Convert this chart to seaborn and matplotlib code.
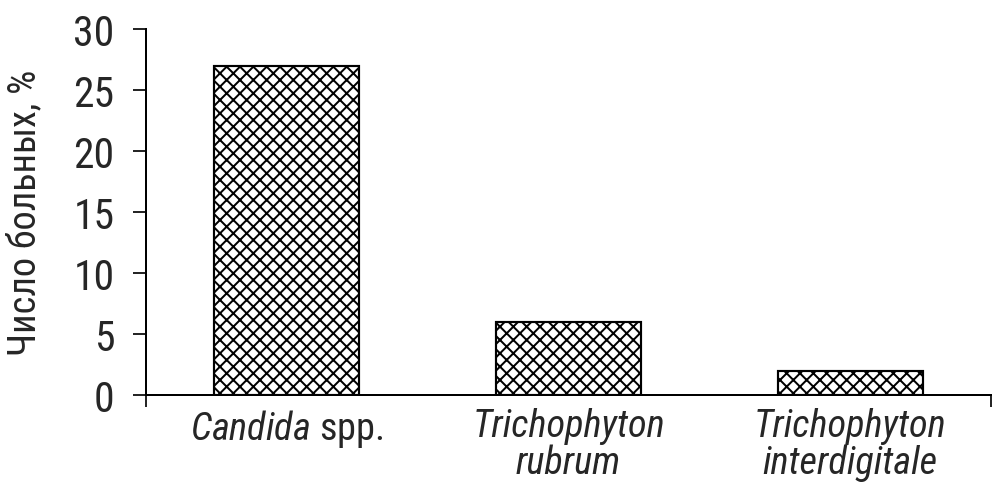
import matplotlib
matplotlib.use("Agg")
import matplotlib.pyplot as plt
from matplotlib import font_manager
import seaborn as sns
import pandas as pd

categories = ["Candida spp.", "Trichophyton rubrum", "Trichophyton interdigitale"]
tick_labels = [r"$\mathit{Candida}$ spp.", "Trichophyton\nrubrum", "Trichophyton\ninterdigitale"]
tick_italic = [False, True, True]
values = [27, 6, 2]
y_ticks = [0, 5, 10, 15, 20, 25, 30]
y_label = "Число больных, %"

names = {f.name for f in font_manager.fontManager.ttflist}
font = "DejaVu Sans"
for cand in ["Roboto Condensed", "Liberation Sans Narrow", "Open Sans Condensed", "Noto Sans Condensed", "Roboto"]:
    if cand in names:
        font = cand
        break

sns.set_style("white")
plt.rcParams["font.family"] = [font, "DejaVu Sans"]
plt.rcParams["mathtext.fontset"] = "custom"
plt.rcParams["mathtext.it"] = f"{font}:italic"
plt.rcParams["mathtext.rm"] = font
plt.rcParams["hatch.linewidth"] = 1.2

dpi = 120
fig = plt.figure(figsize=(993 / dpi, 494 / dpi), dpi=dpi)
ax = fig.add_axes([146 / 993, 98 / 494, 845 / 993, 366 / 494])

df = pd.DataFrame({"cat": categories, "val": values})
sns.barplot(data=df, x="cat", y="val", color="white", edgecolor="black",
            hatch="xxx", linewidth=1.3, width=0.515, saturation=1, ax=ax)

ax.set_xlim(-0.5, len(values) - 0.5)
ax.set_ylim(0, 30)
ax.set_yticks(y_ticks)
ax.set_yticklabels([str(t) for t in y_ticks], fontsize=25)
ax.tick_params(axis="y", direction="out", length=7.8, width=1.2, pad=11, left=True)

ax.set_xticks([-0.5, len(values) - 0.5])
ax.set_xticklabels(["", ""])
ax.tick_params(axis="x", which="major", direction="out", length=7.2, width=1.2, bottom=True)
ax.set_xticks(range(len(values)), minor=True)
ax.set_xticklabels(tick_labels, minor=True, fontsize=23, linespacing=1.0)
for lab, it in zip(ax.get_xticklabels(minor=True), tick_italic):
    if it:
        lab.set_fontstyle("italic")
ax.tick_params(axis="x", which="minor", length=0, pad=7)

ax.set_xlabel("")
ax.set_ylabel(y_label, fontsize=23, labelpad=18)

for s in ["top", "right"]:
    ax.spines[s].set_visible(False)
for s in ["left", "bottom"]:
    ax.spines[s].set_color("black")
    ax.spines[s].set_linewidth(1.2)

fig.savefig("out.png", dpi=dpi)
